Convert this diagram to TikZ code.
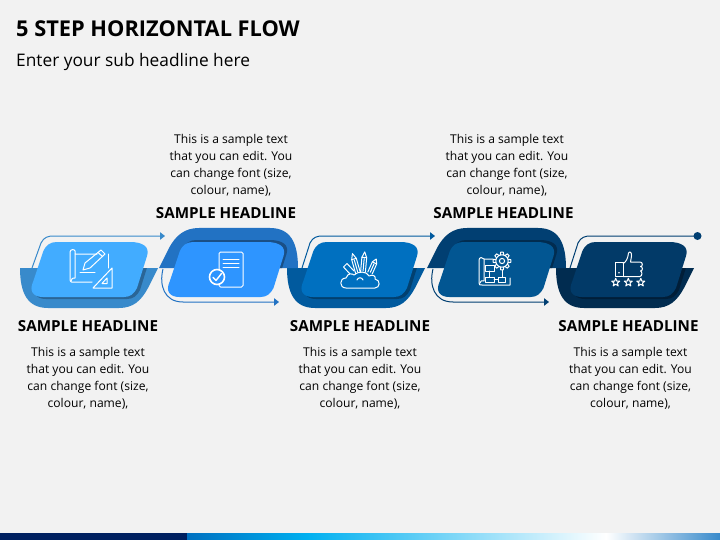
\documentclass[tikz,border=0pt]{standalone}
\usepackage{fontspec}
\setmainfont{Open Sans}
\usetikzlibrary{arrows.meta}

\definecolor{pagegray}{HTML}{F2F2F2}
\definecolor{innerA}{HTML}{42ACFF}
\definecolor{bandA}{HTML}{388ACB}
\definecolor{shadeA}{HTML}{2A6596}
\definecolor{innerB}{HTML}{2E95FF}
\definecolor{bandB}{HTML}{2272C3}
\definecolor{shadeB}{HTML}{1A4F86}
\definecolor{innerC}{HTML}{0070C0}
\definecolor{bandC}{HTML}{015A9E}
\definecolor{shadeC}{HTML}{02406F}
\definecolor{innerD}{HTML}{025692}
\definecolor{bandD}{HTML}{013F72}
\definecolor{shadeD}{HTML}{012C50}
\definecolor{innerE}{HTML}{023A68}
\definecolor{bandE}{HTML}{012C50}
\definecolor{shadeE}{HTML}{011E38}
\definecolor{barnavy}{HTML}{002060}
\definecolor{barcyan}{HTML}{00B0F0}

\tikzset{
  headline/.style={font=\fontsize{15.2}{18}\selectfont\bfseries, text=black, inner sep=0pt},
  bodytext/.style={font=\fontsize{12.1}{17}\selectfont, text=black, align=center, inner sep=0pt},
  flowarrow/.style={line width=1pt, -{Triangle[length=5pt,width=7.5pt]}},
  iconline/.style={draw=white, line width=1pt, line join=round, line cap=round}
}

% one small pencil, standing on its base and pointing up
\newcommand{\penicon}[3]{%
  \begin{scope}[shift={(#1)}, rotate=#2, yscale=#3]
    \draw[iconline] (-2.4,0) -- (-2.4,-13) -- (0,-18) -- (2.4,-13) -- (2.4,0);
    \draw[iconline] (-2.4,-13) -- (2.4,-13);
    \draw[iconline] (0,-1) -- (0,-12);
  \end{scope}}

\begin{document}
\begin{tikzpicture}[x=1pt, y=-1pt]
    \useasboundingbox (0,0) rectangle (720,540);
    \fill[pagegray] (0,0) rectangle (720,540);

    % Shapes of the steps, in local coordinates
    \def\lowerband{(0,0) -- (138,0) -- (128,20) .. controls (121,33) and (113,40) .. (99,40) -- (28,40) .. controls (8,40) and (0,26) .. (0,0) -- cycle}
    \def\upperband{(0,0) -- (139,0) .. controls (139,-26) and (131,-40) .. (111,-40) -- (40,-40) .. controls (26,-40) and (17,-33) .. (10,-20) -- cycle}
    \def\innerpath{(10,0) -- (83,0) .. controls (96,0) and (103,5) .. (100,14) -- (90,46) .. controls (87,52) and (83,55) .. (77,55) -- (-4,55) .. controls (-14,55) and (-18,49) .. (-14,40) -- (-4,10) .. controls (-1,3) and (3,0) .. (10,0) -- cycle}

    % Bands with the shade of the inner plate on them
    \foreach \xpos/\bandcol/\shadecol/\innerx in {20/bandA/shadeA/47, 287/bandC/shadeC/317, 556/bandE/shadeE/586}{
        \fill[\bandcol, shift={(\xpos,268)}] \lowerband;
        \begin{scope}
            \clip[shift={(\xpos,268)}] \lowerband;
            \fill[\shadecol, shift={(\innerx+3,244)}] \innerpath;
        \end{scope}
    }
    \foreach \xpos/\bandcol/\shadecol/\innerx in {159/bandB/shadeB/183.5, 427/bandD/shadeD/453.5}{
        \fill[\bandcol, shift={(\xpos,268)}] \upperband;
        \begin{scope}
            \clip[shift={(\xpos,268)}] \upperband;
            \fill[\shadecol, shift={(\innerx+3,240)}] \innerpath;
        \end{scope}
    }

    % Coordinates of the arrows
    \coordinate (arrowAin) at (32,268);
    \coordinate (arrowAend) at (165,236);
    \coordinate (arrowBin) at (163,269);
    \coordinate (arrowBend) at (279,302);
    \coordinate (arrowCin) at (302,268);
    \coordinate (arrowCend) at (435,236);
    \coordinate (arrowDin) at (433,269);
    \coordinate (arrowDend) at (549,302);
    \coordinate (arrowEin) at (570,268);
    \coordinate (arrowEend) at (697.5,236);

    % Arrows over the bands
    \draw[flowarrow, bandA] (arrowAin) -- (41,243) .. controls (44,237) and (48,236) .. (54,236) -- (arrowAend);
    \draw[flowarrow, bandB] (arrowBin) .. controls (159,285) and (164,302) .. (183,302) -- (arrowBend);
    \draw[flowarrow, bandC] (arrowCin) -- (310,243) .. controls (313,237) and (317,236) .. (323,236) -- (arrowCend);
    \draw[flowarrow, bandD] (arrowDin) .. controls (429,285) and (434,302) .. (453,302) -- (arrowDend);
    \draw[line width=1pt, bandD] (arrowEin) -- (578,243) .. controls (581,237) and (585,236) .. (591,236) -- (arrowEend);
    \fill[bandD] (arrowEend) circle (4pt);

    % Inner plates
    \foreach \xpos/\innercol in {47/innerA, 183.5/innerB, 317/innerC, 453.5/innerD, 586/innerE}{
        \fill[\innercol, shift={(\xpos,242)}] \innerpath;
    }

    % Icon 1: drawing sheet, pencil and set square
    \draw[iconline] (97,254) -- (75,254) -- (75,251) .. controls (75,249) and (70,249) .. (70,252) -- (70,279) .. controls (70,283) and (72,282) .. (75,282) -- (92,282);
    \draw[iconline] (75,254) -- (75,278) .. controls (73,277) and (71,279) .. (71,281);
    \draw[iconline] (108,254) -- (108,268);
    \draw[iconline] (83,270) -- (85,263) -- (101,250) -- (105,254) -- (90,268) -- cycle;
    \draw[iconline] (98,252.5) -- (102.5,256.5);
    \draw[iconline] (80,272) -- (95,272);
    \draw[iconline] (93,288) -- (112,268) -- (112,288) -- cycle;
    \draw[iconline] (102,283.5) -- (107,278) -- (107,283.5) -- cycle;

    % Icon 2: sheet with a tick
    \draw[iconline, rounded corners=1.5pt] (219,252) rectangle (243,287);
    \foreach \ypos in {259,263,267}{
        \draw[iconline] (223,\ypos) -- (239,\ypos);
    }
    \fill[innerB] (217,277) circle (8pt);
    \draw[iconline, line width=1.6pt] (217,277) circle (7.5pt);
    \draw[iconline, line width=1.4pt] (213,277.3) -- (216,280.5) -- (221.5,273.5);

    % Icon 3: pens in a cloud
    \penicon{358,273}{16}{1.12}
    \penicon{363,272}{-5}{1.12}
    \penicon{370,273}{-24}{0.85}
    \draw[iconline] (350,274) -- (343.5,267) -- (347,263.5) -- (354,271);
    \draw[iconline, fill=innerC] (346,288) .. controls (339,288) and (339,278) .. (346,278) .. controls (348,272) and (353,274) .. (354,275) .. controls (358,271) and (367,271) .. (369,276) .. controls (373,274) and (376,276) .. (375,279) .. controls (381,280) and (380,288) .. (375,288) -- cycle;
    \draw[iconline] (357,280) .. controls (358,277) and (362,277) .. (363,280);

    % Icon 4: plan with a gear
    \draw[iconline] (493,259) -- (484,259) .. controls (483,257) and (479,257) .. (479,260) -- (479,283) .. controls (479,285) and (480,285) .. (482,285) -- (510,285) -- (510,278);
    \draw[iconline] (484,259) -- (484,281) .. controls (482,280) and (480,281) .. (480,283);
    \draw[iconline] (485.5,265.5) rectangle (494,271);
    \draw[iconline] (485.5,277) rectangle (494,282);
    \draw[iconline] (498,277) rectangle (505.5,282);
    \draw[iconline] (494,279.5) -- (498,279.5);
    \draw[iconline] (489.5,271) -- (489.5,277);
    \draw[iconline] (502,277) -- (502,270);
    \fill[innerD] (502,261) circle (8pt);
    \draw[iconline] (502,261) circle (6.2pt);
    \draw[iconline] (502,261) circle (2.6pt);
    \foreach \ang in {0,45,...,315}{
        \draw[iconline, shift={(502,261)}, rotate=\ang] (-1.7,-6.2) -- (-1.3,-8.8) -- (1.3,-8.8) -- (1.7,-6.2);
    }

    % Icon 5: thumb and three stars
    \draw[iconline] (615.7,262.3) rectangle (623.3,276.7);
    \fill[white] (619,272.7) circle (0.9pt);
    \draw[iconline] (623.3,263.5) .. controls (626,262) and (628,258) .. (628.5,253) .. controls (630,250.5) and (632,253) .. (631.5,256) -- (630.5,262) -- (640,262) .. controls (643,262) and (643,266.5) .. (640.5,266.5) .. controls (643,266.5) and (643,271) .. (640.5,271) .. controls (642.5,271) and (642.5,276.7) .. (639.5,276.7) -- (623.3,276.7);
    \foreach \xpos in {615.7,628.3,640.8}{
        \draw[iconline, shift={(\xpos,282.5)}] (0,-4.2) -- (1.1,-1.4) -- (4,-1.3) -- (1.7,0.5) -- (2.5,3.4) -- (0,1.7) -- (-2.5,3.4) -- (-1.7,0.5) -- (-4,-1.3) -- (-1.1,-1.4) -- cycle;
    }

    % Title and sub headline
    \node[anchor=base west, inner sep=0pt, font=\fontsize{21.8}{28}\selectfont\bfseries] (titletext) at (16,36.5) {5 STEP HORIZONTAL FLOW};
    \node[anchor=base west, inner sep=0pt, font=\fontsize{17.3}{20}\selectfont] (subtext) at (16,66.5) {Enter your sub headline here};

    % Headlines and texts
    \foreach \name/\xpos in {headA/88, headC/360, headE/628.5}{
        \node[headline] (\name) at (\xpos,326) {SAMPLE HEADLINE};
    }
    \foreach \name/\xpos in {headB/226, headD/503.5}{
        \node[headline] (\name) at (\xpos,213) {SAMPLE HEADLINE};
    }
    \foreach \name/\xpos in {bodyA/88, bodyC/360, bodyE/630.5}{
        \node[bodytext] (\name) at (\xpos,378) {This is a sample text\\that you can edit. You\\can change font (size,\\colour, name),};
    }
    \foreach \name/\xpos in {bodyB/231, bodyD/507}{
        \node[bodytext] (\name) at (\xpos,165) {This is a sample text\\that you can edit. You\\can change font (size,\\colour, name),};
    }

    % Bar at the bottom of the page
    \fill[barnavy] (0,533) rectangle (187,540);
    \shade[left color=innerC, right color=barcyan] (187,533) rectangle (307,540);
    \shade[left color=barcyan, right color=white] (307,533) rectangle (606,540);
    \shade[left color=white, right color=bandA] (606,533) rectangle (720,540);
\end{tikzpicture}
\end{document}
